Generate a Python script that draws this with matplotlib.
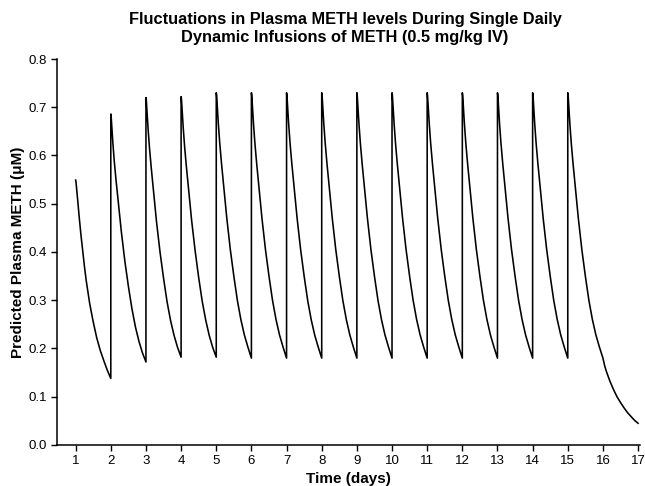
#plot predicted plasma METH over 17 days of single daily infusions
import numpy as np
import matplotlib.pyplot as plt

plt.rcParams['font.family'] = ['Liberation Sans', 'DejaVu Sans']

offsets = [0, 0.01, 0.03, 0.06, 0.1, 0.15, 0.2, 0.25, 0.3, 0.4, 0.5, 0.6, 0.7, 0.8, 0.9, 1.0]

#plasma METH (uM) at those offsets, per dose day
dose_day1 = [0.549, 0.545, 0.530, 0.506, 0.473, 0.436, 0.402, 0.370, 0.341, 0.293, 0.255, 0.222, 0.196, 0.175, 0.155, 0.138]
dose_day2 = [0.686, 0.681, 0.658, 0.625, 0.587, 0.548, 0.512, 0.476, 0.442, 0.381, 0.329, 0.283, 0.245, 0.215, 0.191, 0.172]
dose_day3 = [0.720, 0.715, 0.690, 0.656, 0.616, 0.575, 0.537, 0.499, 0.463, 0.400, 0.346, 0.297, 0.258, 0.227, 0.202, 0.182]
dose_day4 = [0.722, 0.717, 0.692, 0.658, 0.618, 0.577, 0.539, 0.501, 0.465, 0.402, 0.347, 0.298, 0.259, 0.227, 0.202, 0.182]
dose_steady = [0.730, 0.725, 0.700, 0.665, 0.625, 0.583, 0.545, 0.506, 0.470, 0.405, 0.350, 0.300, 0.260, 0.228, 0.203, 0.180]
steady_days = list(range(5, 16))

#washout after the last dose
washout_days = [16.0, 16.05, 16.1, 16.2, 16.3, 16.4, 16.5, 16.6, 16.7, 16.8, 16.9, 17.0]
washout_vals = [0.180, 0.164, 0.152, 0.132, 0.115, 0.100, 0.088, 0.077, 0.067, 0.059, 0.051, 0.045]

#build one continuous trace
cycles = [(1, dose_day1), (2, dose_day2), (3, dose_day3), (4, dose_day4)]
cycles += [(d, dose_steady) for d in steady_days]
t = []
v = []
for day, vals in cycles:
    t += [day + o for o in offsets]
    v += vals
t += washout_days[1:]
v += washout_vals[1:]

fig = plt.figure(figsize=(6.45, 4.86), dpi=100)
ax = fig.add_axes([0.0884, 0.0844, 0.9036, 0.7942])
ax.plot(t, v, color='black', linewidth=1.15)

ax.set_xlim(0.47, 17.05)
ax.set_ylim(0, 0.8)
ax.set_xticks(range(1, 18))
ax.set_yticks(np.arange(0, 0.81, 0.1))
ax.set_yticklabels(['%.1f' % y for y in np.arange(0, 0.81, 0.1)])
ax.tick_params(direction='out', length=4, width=1, labelsize=9.5)
ax.spines['top'].set_visible(False)
ax.spines['right'].set_visible(False)
ax.spines['left'].set_linewidth(1.1)
ax.spines['bottom'].set_linewidth(1.1)

ax.set_xlabel('Time (days)', fontsize=11, fontweight='bold', labelpad=3)
ax.set_ylabel('Predicted Plasma METH (\u03bcM)', fontsize=11, fontweight='bold', labelpad=2)
fig.text(0.535, 0.975, 'Fluctuations in Plasma METH levels During Single Daily\nDynamic Infusions of METH (0.5 mg/kg IV)',
         ha='center', va='top', fontsize=11.8, fontweight='bold', linespacing=1.2)

plt.savefig('out.png', dpi=100)
